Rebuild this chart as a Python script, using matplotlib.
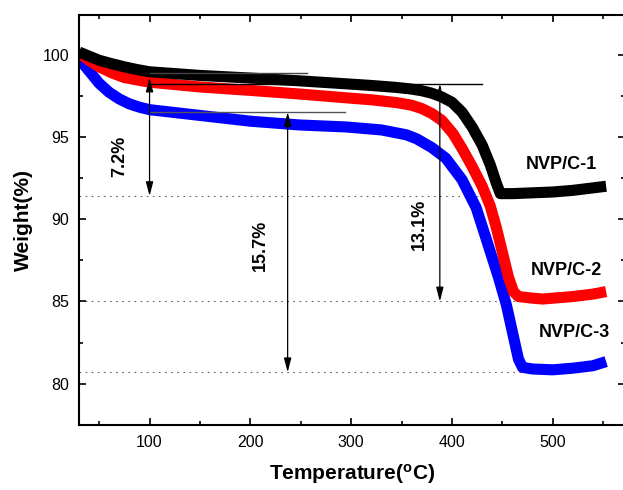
#!/usr/bin/env python
import matplotlib
matplotlib.use('Agg')
import matplotlib.pyplot as plt
from matplotlib.ticker import MultipleLocator

plt.rcParams['font.family'] = ['Liberation Sans', 'DejaVu Sans']
plt.rcParams['mathtext.default'] = 'regular'

# TGA curves (temperature in C, weight in %)
t1 = [30, 40, 50, 62, 75, 88, 100, 150, 200, 249, 295, 320, 345, 360, 370, 380, 390, 400, 410, 420, 430, 438, 444, 448,
      460, 480, 500, 520, 540, 553]
w1 = [100.15, 99.9, 99.65, 99.45, 99.25, 99.08, 98.95, 98.73, 98.57, 98.4, 98.22, 98.12, 98.0, 97.9, 97.8, 97.65, 97.42, 97.1, 96.5, 95.6, 94.5, 93.3, 92.2, 91.55,
      91.55, 91.6, 91.65, 91.75, 91.9, 92.0]

t2 = [30, 40, 50, 62, 75, 88, 100, 150, 200, 249, 295, 320, 345, 360, 370, 380, 390, 401, 410, 420, 430, 438, 444, 450, 456, 461,
      466, 480, 490, 500, 520, 540, 553]
w2 = [100.1, 99.65, 99.25, 98.9, 98.6, 98.45, 98.32, 98.03, 97.82, 97.6, 97.37, 97.25, 97.08, 96.92, 96.72, 96.42, 96.0, 95.2, 94.3, 93.2, 92.0, 90.8, 89.5, 88.0, 86.5, 85.6,
      85.3, 85.2, 85.15, 85.2, 85.3, 85.45, 85.6]

t3 = [30, 40, 50, 60, 70, 80, 90, 100, 150, 200, 249, 295, 330, 355, 365, 380, 394, 410, 424, 434, 446, 454, 462, 466,
      470, 480, 500, 520, 540, 553]
w3 = [99.75, 99.0, 98.25, 97.7, 97.3, 97.0, 96.8, 96.65, 96.3, 95.95, 95.72, 95.6, 95.42, 95.12, 94.88, 94.35, 93.7, 92.4, 90.7, 88.8, 86.5, 84.8, 82.6, 81.5,
      81.0, 80.9, 80.85, 80.95, 81.1, 81.35]

names = ['NVP/C-1', 'NVP/C-2', 'NVP/C-3']
colors = ['black', 'red', 'blue']
name_x = [509, 514, 521]
name_y = [93.35, 86.9, 83.1]

# final-residue dotted lines
res_w = [91.4, 85.0, 80.7]
res_end = [440, 485, 495]

# weight-loss arrows: x, top, bottom, label, label position
loss_x = [100, 237, 388]
loss_top = [98.6, 96.5, 98.22]
loss_bot = [91.4, 80.7, 85.0]
loss_txt = ['7.2%', '15.7%', '13.1%']
loss_tx = [70, 210, 368]
loss_ty = [93.8, 88.4, 89.7]

# reference starting-weight lines: y, x start, x end, colour
ref_w = [98.9, 98.22, 96.5]
ref_x0 = [100, 100, 100]
ref_x1 = [256, 430, 294]
ref_c = ['#444444', 'black', '#555555']

fig = plt.figure(figsize=(6.23, 4.9), dpi=100)
ax = fig.add_axes([0.1268, 0.1327, 0.8764, 0.8367])

for t, w, c in zip([t3, t2, t1], [w3, w2, w1], colors[::-1]):
    ax.plot(t, w, color=c, lw=8, solid_capstyle='butt', solid_joinstyle='round', zorder=2)

for w, e in zip(res_w, res_end):
    ax.plot([30, e], [w, w], color='#666666', lw=0.8, ls=(0, (1.5, 4)), zorder=1)

for w, x0, x1, c in zip(ref_w, ref_x0, ref_x1, ref_c):
    ax.plot([x0, x1], [w, w], color=c, lw=1.0, zorder=3)

for x, a, b, s, tx, ty in zip(loss_x, loss_top, loss_bot, loss_txt, loss_tx, loss_ty):
    ax.annotate('', xy=(x, b), xytext=(x, a),
                arrowprops=dict(arrowstyle='<|-|>,head_length=0.85,head_width=0.22',
                                color='black', lw=0.9, shrinkA=0, shrinkB=0,
                                mutation_scale=10), zorder=4)
    ax.text(tx, ty, s, rotation=90, ha='center', va='center',
            fontsize=13, fontweight='bold')

for s, x, y in zip(names, name_x, name_y):
    ax.text(x, y, s, ha='center', va='center', fontsize=13, fontweight='bold')

ax.set_xlim(30, 571.7)
ax.set_ylim(77.5, 102.4)
ax.xaxis.set_major_locator(MultipleLocator(100))
ax.xaxis.set_minor_locator(MultipleLocator(50))
ax.yaxis.set_major_locator(MultipleLocator(5))
ax.yaxis.set_minor_locator(MultipleLocator(2.5))
ax.tick_params(which='both', direction='in', top=True, right=True, width=1.2)
ax.tick_params(which='major', length=5, labelsize=11.5)
ax.tick_params(which='minor', length=3)
ax.tick_params(axis='x', pad=7)
ax.tick_params(axis='y', pad=7)
for sp in ax.spines.values():
    sp.set_linewidth(1.5)

ax.set_xlabel('Temperature($^{o}$C)', fontsize=15, fontweight='bold', labelpad=9)
ax.set_ylabel('Weight(%)', fontsize=15, fontweight='bold', labelpad=7)

plt.savefig('out.png', dpi=100)
